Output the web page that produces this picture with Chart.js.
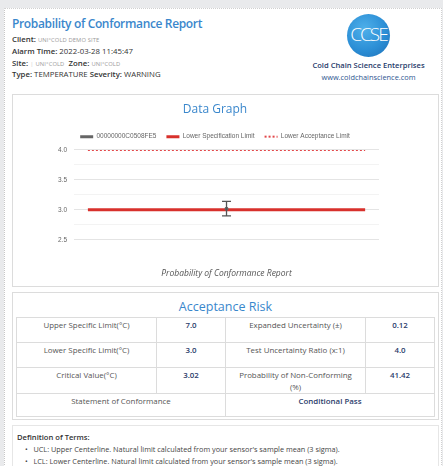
<!DOCTYPE html>
<html>
<head>
<meta charset="utf-8">
<script src="https://cdn.jsdelivr.net/npm/chart.js@4.4.0/dist/chart.umd.min.js"></script>
<style>
  html, body { margin:0; padding:0; }
  body { width:443px; height:466px; background:#e9eaec; position:relative; overflow:hidden; font-family:"Open Sans", sans-serif; }
  #outer { position:absolute; left:4px; top:8px; width:436px; height:470px; background:#fff; border-left:1px dotted #c8c8c8; border-top:1px dotted #d0d0d0; border-right:1px dotted #d0d0d0; }
  .abs { position:absolute; white-space:nowrap; }
  #ttl { left:12px; top:14px; font-size:12px; font-weight:600; color:#3a87cc; letter-spacing:-0.35px; transform:scaleY(1.08); transform-origin:left top; }
  .hl { left:12px; font-size:7.8px; color:#333; }
  .hl b { font-weight:600; color:#333; }
  .sm { font-size:5.8px; color:#9a9a9a; letter-spacing:0.1px; }
  #logo { left:347px; top:14px; width:43px; height:43px; border-radius:50%;
    background: radial-gradient(circle at 40% 35%, #4fb0ea 0%, #2c8fd6 55%, #1d6fb6 100%); overflow:hidden; }
  #logo span { position:absolute; left:-2px; width:47px; top:9px; text-align:center; color:#fff; font-family:"Open Sans"; font-weight:300; font-size:19px; letter-spacing:-2px; line-height:22px; }
  #cname { left:312px; top:60px; width:113px; text-align:center; font-size:7.6px; font-weight:600; color:#1f3b6b; }
  #curl { left:312px; top:72px; width:113px; text-align:center; font-size:7.4px; color:#2d5590; }
  .card { position:absolute; left:12px; width:425px; background:#fff; border:1px solid #dcdcdc; }
  #chartCard { top:94px; height:191px; }
  #accCard { top:292px; height:126px; }
  #defCard { top:425px; height:60px; border-color:#e6e6e6; }
  #chartBox { position:absolute; left:0px; top:0px; width:425px; height:191px; }
  #accTitle { position:absolute; left:0; width:425px; top:5px; text-align:center; font-size:12.5px; color:#3a87cc; }
  table { position:absolute; left:3px; top:24px; width:418px; border-collapse:collapse; font-size:7.9px; table-layout:fixed; }
  td { border:1.5px solid #dcdcdc; text-align:center; vertical-align:top; padding:2px 9px 0 9px; color:#555; line-height:11.5px; }
  td.v { font-weight:600; color:#2b3d6b; }
  #defTitle { left:4px; top:6px; font-size:7.6px; font-weight:600; color:#333; }
  .li { left:12px; font-size:7.3px; color:#444; }
</style>
</head>
<body>
<div id="outer"></div>
<div class="abs" id="ttl">Probability of Conformance Report</div>
<div class="abs hl" style="top:34px"><b>Client:</b> <span class="sm">UNI°COLD DEMO SITE</span></div>
<div class="abs hl" style="top:46px"><b>Alarm Time:</b> 2022-03-28 11:45:47</div>
<div class="abs hl" style="top:58px"><b>Site:</b> <span class="sm" style="color:#ccc">|</span> <span class="sm">UNI°COLD</span> &nbsp;<b>Zone:</b> <span class="sm">UNI°COLD</span></div>
<div class="abs hl" style="top:69px"><b>Type:</b> TEMPERATURE <b>Severity:</b> WARNING</div>
<div class="abs" id="logo"><span>CCSE</span></div>
<div class="abs" id="cname">Cold Chain Science Enterprises</div>
<div class="abs" id="curl">www.coldchainscience.com</div>

<div class="card" id="chartCard"><div id="chartBox"><canvas id="c"></canvas></div></div>

<div class="card" id="accCard">
  <div id="accTitle">Acceptance Risk</div>
  <table>
    <colgroup><col style="width:140px"><col style="width:69px"><col style="width:140px"><col style="width:69px"></colgroup>
    <tr style="height:25px"><td>Upper Specific Limit(°C)</td><td class="v">7.0</td><td>Expanded Uncertainty (±)</td><td class="v">0.12</td></tr>
    <tr style="height:25px"><td>Lower Specific Limit(°C)</td><td class="v">3.0</td><td>Test Uncertainty Ratio (x:1)</td><td class="v">4.0</td></tr>
    <tr style="height:25px"><td>Critical Value(°C)</td><td class="v">3.02</td><td>Probability of Non-Conforming (%)</td><td class="v">41.42</td></tr>
    <tr style="height:23px"><td colspan="2">Statement of Conformance</td><td colspan="2" class="v">Conditional Pass</td></tr>
  </table>
</div>

<div class="card" id="defCard">
  <div class="abs" id="defTitle">Definition of Terms:</div>
  <div class="abs li" style="top:18px">•&nbsp;&nbsp; UCL: Upper Centerline. Natural limit calculated from your sensor's sample mean (3 sigma).</div>
  <div class="abs li" style="top:30px">•&nbsp;&nbsp; LCL: Lower Centerline. Natural limit calculated from your sensor's sample mean (3 sigma).</div>
</div>

<script>
const categories = ['', '', '', '', '', '', '', '', '', '', ''];
const sensorLabel = '00000000C0508FE5';
const sensorValues = [null, null, null, null, null, 3.02, null, null, null, null, null];
const sensorUncertainty = [null, null, null, null, null, 0.12, null, null, null, null, null];
const lowerSpecLimit = [3.0, 3.0, 3.0, 3.0, 3.0, 3.0, 3.0, 3.0, 3.0, 3.0, 3.0];
const lowerAcceptLimit = [4.0, 4.0, 4.0, 4.0, 4.0, 4.0, 4.0, 4.0, 4.0, 4.0, 4.0];
const yMin = 2.5, yMax = 4.0, yStep = 0.25, yLabelStep = 0.5;

const errorBars = {
  id: 'errorBars',
  afterDatasetsDraw(chart) {
    const {ctx, scales: {x, y}} = chart;
    ctx.save();
    ctx.strokeStyle = '#555';
    ctx.lineWidth = 1.3;
    sensorValues.forEach((v, i) => {
      if (v === null || sensorUncertainty[i] === null) return;
      const px = x.getPixelForValue(i);
      const top = y.getPixelForValue(v + sensorUncertainty[i]);
      const bot = y.getPixelForValue(v - sensorUncertainty[i]);
      ctx.beginPath();
      ctx.moveTo(px, top); ctx.lineTo(px, bot);
      ctx.moveTo(px - 4.5, top); ctx.lineTo(px + 4.5, top);
      ctx.moveTo(px - 4.5, bot); ctx.lineTo(px + 4.5, bot);
      ctx.stroke();
    });
    ctx.restore();
  }
};

new Chart(document.getElementById('c'), {
  type: 'line',
  data: {
    labels: categories,
    datasets: [
      { label: sensorLabel, data: sensorValues, borderColor: '#666', backgroundColor: '#666', borderWidth: 3, pointRadius: 2, pointBackgroundColor: '#666', pointBorderWidth: 0 },
      { label: 'Lower Specification Limit', data: lowerSpecLimit, borderColor: '#d8312c', backgroundColor: '#d8312c', borderWidth: 3, pointRadius: 0 },
      { label: 'Lower Acceptance Limit', data: lowerAcceptLimit, borderColor: '#e2474a', backgroundColor: '#e2474a', borderWidth: 2, borderDash: [2, 2], pointRadius: 0 }
    ]
  },
  options: {
    responsive: true,
    maintainAspectRatio: false,
    animation: false,
    layout: { padding: { left: 38, right: 59, top: 0, bottom: 4 } },
    plugins: {
      title: { display: true, text: 'Data Graph', color: '#3a87cc', font: { family: 'Open Sans', size: 12, weight: 'normal' }, padding: { top: 7, bottom: 7 } },
      legend: { labels: { usePointStyle: true, pointStyle: 'line', pointStyleWidth: 13, color: '#666', font: { family: 'Liberation Sans', size: 6.5 }, padding: 10,
        generateLabels(chart) {
          const items = Chart.defaults.plugins.legend.labels.generateLabels(chart);
          items.forEach((it) => {
            const ds = chart.data.datasets[it.datasetIndex];
            it.lineWidth = ds.borderWidth;
            it.lineDash = ds.borderDash || [];
            it.strokeStyle = ds.borderColor;
            it.pointStyle = 'line';
          });
          return items;
        } } },
      tooltip: { enabled: false }
    },
    scales: {
      x: { type: 'category', offset: true, grid: { display: false }, border: { display: false }, ticks: { display: false },
           title: { display: true, text: 'Probability of Conformance Report', color: '#555', font: { family: 'Open Sans', size: 8.5, style: 'italic' }, padding: { top: 21, bottom: 3 } } },
      y: { min: yMin, max: yMax, border: { display: false },
           grid: { drawTicks: false, color: (c) => (Math.abs(c.tick.value / yLabelStep - Math.round(c.tick.value / yLabelStep)) < 1e-6 ? '#e4e4e4' : '#f3f3f3') },
           ticks: { stepSize: yStep, padding: 7, color: '#666', font: { family: 'Liberation Sans', size: 6.5 },
                    callback: (v) => (Math.abs(v / yLabelStep - Math.round(v / yLabelStep)) < 1e-6 ? v.toFixed(1) : '') } }
    }
  },
  plugins: [errorBars]
});
</script>
</body>
</html>
